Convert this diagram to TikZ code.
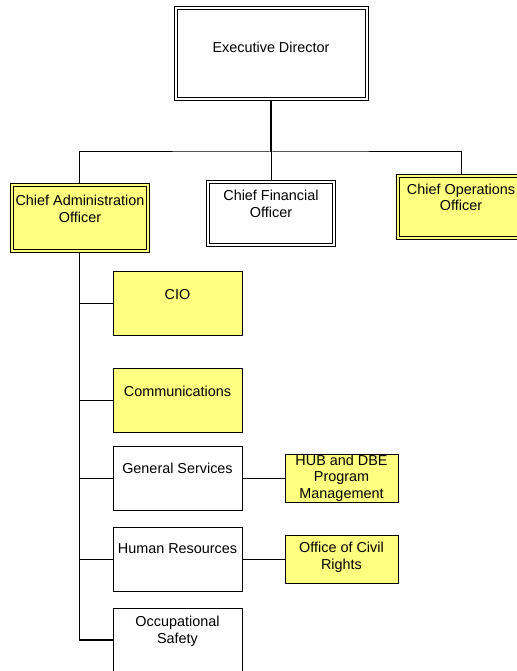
\documentclass[tikz,border=0pt]{standalone}
\usepackage{fontspec}
\setmainfont{Liberation Sans}
\usetikzlibrary{backgrounds}
\definecolor{boxyellow}{HTML}{FFFF80}
\begin{document}
\begin{tikzpicture}[x=1pt,y=-1pt,
  unit/.style={draw, line width=1pt, inner sep=0pt, minimum width=129pt, minimum height=64pt},
  small/.style={unit, minimum width=113pt, minimum height=48pt},
  dbl/.style={draw, line width=1pt, inner sep=0pt,
    path picture={\draw[line width=1pt]
      ([shift={(3pt,3pt)}]path picture bounding box.south west) rectangle
      ([shift={(-3pt,-3pt)}]path picture bounding box.north east);}},
  whitedbl/.style={dbl, fill=white},
  yellowdbl/.style={dbl, fill=boxyellow},
  lbl/.style={font=\fontsize{14.4}{16.5}\selectfont, align=center, inner sep=0pt},
  link/.style={line width=1pt},
  trunk/.style={line width=1.4pt}]
\useasboundingbox (0,0) rectangle (516,671);

% senior positions (double-ruled boxes)
\node[whitedbl, minimum width=194pt, minimum height=94pt] (ed) at (271,54) {};
\node[yellowdbl, minimum width=139pt, minimum height=69pt] (cao) at (79.5,217.5) {};
\node[whitedbl, minimum width=129pt, minimum height=66pt] (cfo) at (271,213) {};
\node[yellowdbl, minimum width=129pt, minimum height=65pt] (coo) at (461,206.5) {};

% units reporting to the administration officer
\node[unit, fill=boxyellow] (cio) at (177.5,303.5) {};
\node[unit, fill=boxyellow] (comm) at (177.5,400) {};
\node[unit, fill=white] (gs) at (177.5,478) {};
\node[unit, fill=white] (hr) at (177.5,559) {};
\node[unit, fill=white] (os) at (177.5,640) {};
\node[small, fill=boxyellow] (hub) at (341.5,478) {};
\node[small, fill=boxyellow] (ocr) at (341.5,559) {};

% box captions
\node[lbl] (edt) at (271,47) {Executive Director};
\node[lbl] (caot) at (80,209) {Chief Administration\\Officer};
\node[lbl] (cfot) at (271,204) {Chief Financial\\Officer};
\node[lbl] (coot) at (461,197.5) {Chief Operations\\Officer};
\node[lbl] (ciot) at (177.5,295) {CIO};
\node[lbl] (commt) at (177.5,391) {Communications};
\node[lbl] (gst) at (177.5,468) {General Services};
\node[lbl] (hrt) at (177.5,549) {Human Resources};
\node[lbl] (ost) at (177.5,631.5) {Occupational\\Safety};
\node[lbl] (hubt) at (341.5,478) {HUB and DBE\\Program\\Management};
\node[lbl] (ocrt) at (341.5,557.5) {Office of Civil\\Rights};

% reporting lines
\coordinate (bus) at (271,152);
\begin{scope}[on background layer]
  \draw[trunk] (ed.south) -- (bus);
  \draw[link] (bus) -- (cfo.north);
  \draw[link] (cao.north) |- (bus) -| (coo.north);
  \draw[trunk] (cao.south) |- (os.west);
  \draw[link] (cio.west -| cao.south) -- (cio.west);
  \draw[link] (comm.west -| cao.south) -- (comm.west);
  \draw[link] (gs.west -| cao.south) -- (gs.west);
  \draw[link] (hr.west -| cao.south) -- (hr.west);
  \draw[link] (gs.east) -- (hub.west);
  \draw[link] (hr.east) -- (ocr.west);
\end{scope}
\end{tikzpicture}
\end{document}
